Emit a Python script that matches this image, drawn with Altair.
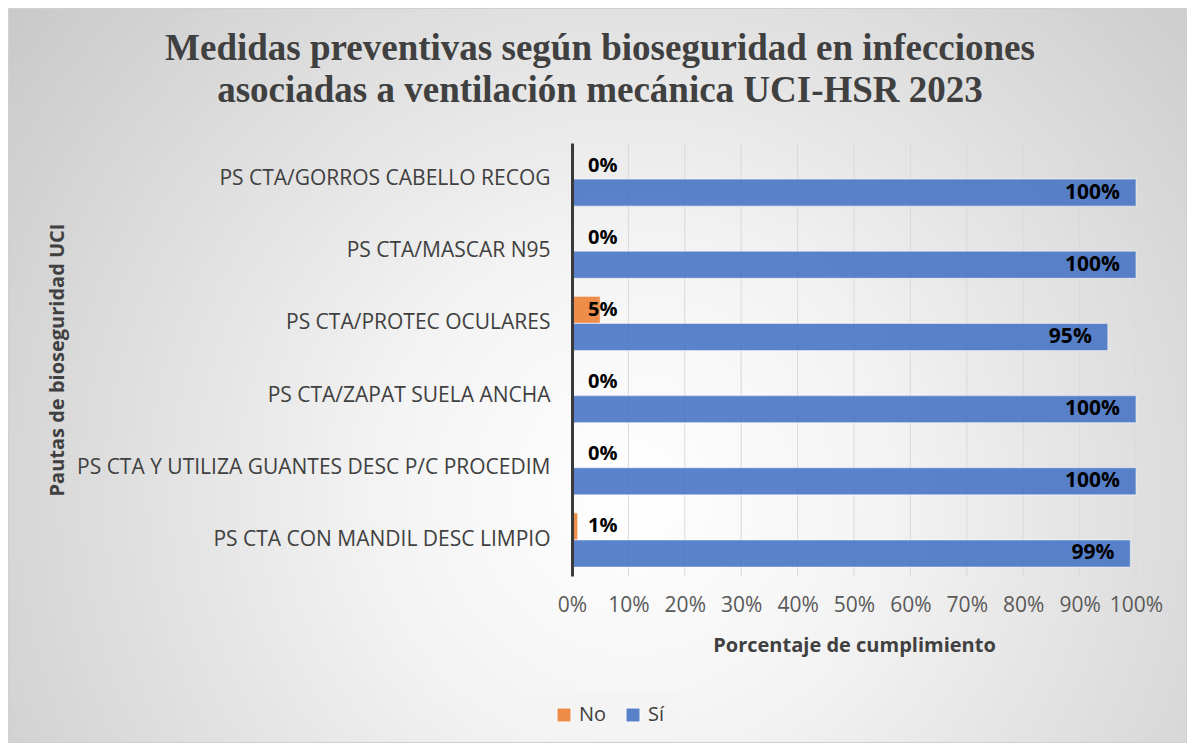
import altair as alt
import pandas as pd

categories = [
    "PS CTA/GORROS CABELLO RECOG",
    "PS CTA/MASCAR N95",
    "PS CTA/PROTEC OCULARES",
    "PS CTA/ZAPAT SUELA ANCHA",
    "PS CTA Y UTILIZA GUANTES DESC P/C PROCEDIM",
    "PS CTA CON MANDIL DESC LIMPIO",
]
no_values = [0, 0, 5, 0, 0, 1]
si_values = [100, 100, 95, 100, 100, 99]
series_names = ["No", "Sí"]
x_ticks = [0, 10, 20, 30, 40, 50, 60, 70, 80, 90, 100]

rows = []
for c, n, s in zip(categories, no_values, si_values):
    rows.append({"cat": c, "series": "No", "value": n})
    rows.append({"cat": c, "series": "Sí", "value": s})
df = pd.DataFrame(rows)
ticks_df = pd.DataFrame({"tick": x_ticks[1:]})

W, H = 564, 433
PL, PT, PR, PB = 564, 135, 51, 167
FONT = "Open Sans"
DARK = "#404040"

bg = alt.Chart(pd.DataFrame({"bg": [0]})).mark_rect(
    fill=alt.Gradient(
        gradient="radial",
        stops=[
            alt.GradientStop(color="#ffffff", offset=0),
            alt.GradientStop(color="#f3f3f3", offset=0.3),
            alt.GradientStop(color="#c4c4c4", offset=1),
        ],
        x1=0.53, y1=0.6, r1=0,
        x2=0.53, y2=0.6, r2=0.72,
    ),
    stroke="#d0d0d0",
    strokeWidth=1,
).encode(
    x=alt.value(-PL + 0.5), x2=alt.value(W + PR - 0.5),
    y=alt.value(-PT + 0.5), y2=alt.value(H + PB - 0.5),
)

x_scale = alt.Scale(domain=[0, 100], nice=False)

grid = alt.Chart(ticks_df).mark_rule(color="#d9d9d9", strokeWidth=1).encode(
    x=alt.X("tick:Q", scale=x_scale),
    y=alt.value(0), y2=alt.value(H),
)

y_enc = alt.Y(
    "cat:N",
    sort=categories,
    scale=alt.Scale(paddingInner=0.25, paddingOuter=0.125),
    axis=alt.Axis(
        title="Pautas de bioseguridad UCI",
        titleFont=FONT, titleFontSize=20, titleFontWeight="bold", titleColor=DARK,
        titleX=-515, titleY=H / 2, titleAlign="center", titleBaseline="middle",
        titleAngle=270,
        labelFont=FONT, labelFontSize=21, labelColor=DARK, labelPadding=22,
        labelLimit=700,
        ticks=False, domain=True, domainColor="#3a3a3a", domainWidth=3,
        grid=False, zindex=1,
    ),
)
yoff = alt.YOffset("series:N", sort=series_names,
                   scale=alt.Scale(paddingInner=0, paddingOuter=0))

bars = alt.Chart(df).mark_bar(
    fillOpacity=0.88, stroke="white", strokeOpacity=0.45, strokeWidth=1.2
).encode(
    x=alt.X(
        "value:Q", scale=x_scale,
        axis=alt.Axis(
            values=x_ticks, labelExpr="datum.value + '%'",
            labelOverlap=False, labelFlush=False,
            title="Porcentaje de cumplimiento",
            titleFont=FONT, titleFontSize=20, titleFontWeight="bold", titleColor=DARK,
            titlePadding=20,
            labelFont=FONT, labelFontSize=21, labelColor="#595959", labelPadding=18,
            ticks=False, domain=False, grid=False, zindex=1,
        ),
    ),
    y=y_enc,
    yOffset=yoff,
    color=alt.Color(
        "series:N",
        scale=alt.Scale(domain=series_names, range=["#ED7D31", "#4472C4"]),
        legend=alt.Legend(
            title=None, orient="none", direction="horizontal",
            legendX=-31, legendY=549,
            symbolType="square", symbolSize=196, symbolOpacity=0.88,
            symbolStrokeColor="white", symbolStrokeWidth=1,
            labelFont=FONT, labelFontSize=20, labelColor=DARK, labelOffset=5,
            columnPadding=16, padding=13, fillColor="#f4f4f4",
        ),
    ),
)

no_labels = alt.Chart(df).transform_filter(
    alt.datum.series == "No"
).transform_calculate(
    label="datum.value + '%'"
).mark_text(
    align="left", baseline="middle", dx=16, font=FONT, fontSize=20,
    fontWeight="bold", color="black"
).encode(
    x=alt.datum(0, scale=x_scale),
    y=alt.Y("cat:N", sort=categories),
    yOffset=yoff,
    text="label:N",
)

si_labels = alt.Chart(df).transform_filter(
    alt.datum.series == "Sí"
).transform_calculate(
    label="datum.value + '%'"
).mark_text(
    align="right", baseline="middle", dx=-16, font=FONT, fontSize=21,
    fontWeight="bold", color="black"
).encode(
    x=alt.X("value:Q", scale=x_scale),
    y=alt.Y("cat:N", sort=categories),
    yOffset=yoff,
    text="label:N",
)

chart = alt.layer(bg, grid, bars, no_labels, si_labels).properties(
    width=W, height=H,
    title=alt.TitleParams(
        text=["Medidas preventivas según bioseguridad en infecciones",
              "asociadas a ventilación mecánica UCI-HSR 2023"],
        font="Liberation Serif", fontSize=37, fontWeight="bold", color=DARK,
        anchor="middle", dx=-254, offset=-102, lineHeight=42,
    ),
    autosize=alt.AutoSizeParams(type="none"),
    padding={"left": PL, "top": PT, "right": PR, "bottom": PB},
).configure_view(stroke=None)

chart.save("out.html", embed_options={"renderer": "svg", "actions": False})
